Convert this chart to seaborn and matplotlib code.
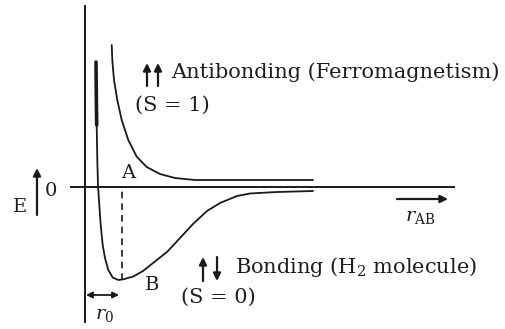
import numpy as np
import pandas as pd
import matplotlib
matplotlib.use("Agg")
import matplotlib.pyplot as plt
import seaborn as sns

# curve samples (r along the axis, E up from zero)
bond_r = [11, 11.3, 11.7, 12.3, 13, 14.3, 15.7, 17.7, 20, 23.3, 27.7, 33.3, 38.3, 48.3,
          58, 68, 82, 95, 108, 122, 135, 152, 165, 192, 228]
bond_E = [125, 92, 62, 27, 2, -18, -38, -58, -71, -83, -90.5, -93, -92.3, -89.5,
          -84, -76, -65, -51, -37, -24, -16, -9, -6.5, -5, -4]

anti_r = [26.7, 27.3, 29, 32.3, 36.7, 43.3, 51.7, 61.7, 75, 90, 110, 120, 228]
anti_E = [142, 127, 107, 87, 67, 47, 30.3, 20, 13, 9, 7, 7, 7]

r0 = 37
E_min = -93

anti_label = "Antibonding (Ferromagnetism)"
anti_spin = "(S = 1)"
bond_label = r"Bonding (H$_{2}$ molecule)"
bond_spin = "(S = 0)"

sns.set_style("white")
plt.rcParams["font.family"] = ["DejaVu Serif"]
plt.rcParams["mathtext.fontset"] = "dejavuserif"

ink = "#1a1a1a"
txt = "#1e1e1e"

fig = plt.figure(figsize=(5.06, 3.29), dpi=100)
ax = fig.add_axes([0, 0, 1, 1])
ax.set_xlim(-85, 421)
ax.set_ylim(-142, 187)
ax.axis("off")

bond = pd.DataFrame({"r": bond_r, "E": bond_E})
anti = pd.DataFrame({"r": anti_r, "E": anti_E})

line_kw = dict(sort=False, color=ink, ax=ax, solid_joinstyle="round", solid_capstyle="round")
sns.lineplot(data=bond, x="r", y="E", lw=1.3, **line_kw)
sns.lineplot(data=bond.iloc[:3], x="r", y="E", lw=2.6, **line_kw)
sns.lineplot(data=anti, x="r", y="E", lw=1.3, **line_kw)

# axes drawn as plain lines
ax.vlines(0, -136, 182, color=ink, lw=1.4)
ax.hlines(0, -15, 370, color=ink, lw=1.4)
ax.vlines(r0, E_min, 0, color=ink, lw=1.2, linestyles=(0, (4, 3)))

fs = 14
fl = 15
ax.text(43, 14, "A", fontsize=fs, color=txt, ha="center", va="center")
ax.text(67, -98, "B", fontsize=fs, color=txt, ha="center", va="center")
ax.text(-65, -20, "E", fontsize=fs, color=txt, ha="center", va="center")
ax.text(-34, -4, "0", fontsize=fs, color=txt, ha="center", va="center")

arrow = dict(arrowstyle="-|>", color=ink, lw=1.6, mutation_scale=11, shrinkA=0, shrinkB=0)
ax.annotate("", xy=(-48, 19), xytext=(-48, -28), arrowprops=arrow)
ax.annotate("", xy=(363, -12), xytext=(312, -12), arrowprops=arrow)
ax.annotate("", xy=(1, -108), xytext=(r0 - 3, -108),
            arrowprops=dict(arrowstyle="<|-|>", color=ink, lw=1.3, mutation_scale=9, shrinkA=0, shrinkB=0))
ax.text(20, -128, r"$r_0$", fontsize=fs, color=txt, ha="center", va="center")
ax.text(335, -30, r"$r_{\rm AB}$", fontsize=fs, color=txt, ha="center", va="center")

# spin arrows
spin = dict(arrowstyle="-|>", color=ink, lw=1.6, mutation_scale=11, shrinkA=0, shrinkB=0)
for x in (62, 73):
    ax.annotate("", xy=(x, 124), xytext=(x, 101), arrowprops=spin)
ax.annotate("", xy=(118, -70), xytext=(118, -94), arrowprops=spin)
ax.annotate("", xy=(132, -94), xytext=(132, -70), arrowprops=spin)

ax.text(86, 115, anti_label, fontsize=fl, color=txt, ha="left", va="center")
ax.text(50, 82, anti_spin, fontsize=fl, color=txt, ha="left", va="center")
ax.text(150, -80, bond_label, fontsize=fl, color=txt, ha="left", va="center")
ax.text(96, -110, bond_spin, fontsize=fl, color=txt, ha="left", va="center")

fig.savefig("out.png", dpi=100)
